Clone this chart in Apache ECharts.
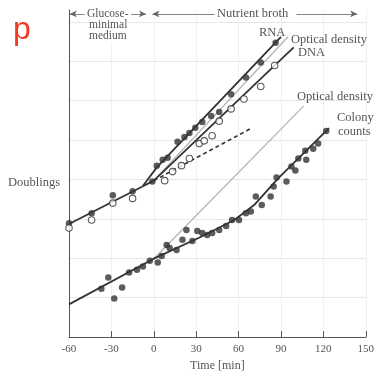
<!DOCTYPE html>
<html>
<head>
<meta charset="utf-8">
<script src="https://cdn.jsdelivr.net/npm/echarts@6/dist/echarts.min.js"></script>
<style>
  html, body { margin: 0; padding: 0; background: #fff; }
  #main { width: 377px; height: 377px; }
</style>
</head>
<body>
<div id="main"></div>
<script>
// time in minutes, doublings (log2 scale units)
const xTicks = [-60, -30, 0, 30, 60, 90, 120, 150]

// glucose minimal medium, before the shift
const glucoseLine = [[-60, 2.87], [-8, 3.82]]
const rnaLine = [[-8, 3.82], [2, 4.3], [90, 7.62]]
const odUpperLine = [[-8, 3.82], [0, 3.97], [95, 7.62]]
const dnaLine = [[-8, 3.82], [0, 3.97], [99, 7.35]]
const dashedLine = [[0, 3.97], [68, 5.28]]
const odLowerLine = [[0, 1.99], [106, 5.86]]
const colonyLine = [[-60, 0.83], [0, 1.99], [32, 2.52], [57, 2.97], [71, 3.35], [88, 4.03], [124, 5.3]]

const rnaPoints = [
  [-60, 2.89], [-44, 3.14], [-29, 3.6], [-15, 3.7], [-1, 3.95],
  [2.1, 4.35], [6.3, 4.5], [9.8, 4.55], [16.8, 4.96], [21.7, 5.08], [25.2, 5.18],
  [29.4, 5.31], [34.3, 5.46], [40.6, 5.61], [46.3, 5.71], [54.7, 6.16],
  [65.2, 6.59], [75.7, 6.97], [86.2, 7.47]
]
const dnaPoints = [
  [-60, 2.77], [-44, 2.97], [-29, 3.4], [-15, 3.52],
  [7.7, 3.97], [13.3, 4.2], [19.6, 4.35], [25.2, 4.53], [32.2, 4.91], [35.7, 4.98],
  [41.3, 5.11], [46.3, 5.48], [54.7, 5.79], [63.8, 6.04], [75.7, 6.36], [85.5, 6.89]
]
const colonyPoints = [
  [-37.1, 1.23], [-32.2, 1.51], [-28, 0.98], [-22.4, 1.26], [-17.5, 1.64], [-11.9, 1.71],
  [-7.7, 1.79], [-2.8, 1.94], [2.8, 1.89], [5.6, 2.06], [9.1, 2.34], [11.2, 2.26],
  [16.1, 2.21], [20.3, 2.47], [23.1, 2.72], [27.3, 2.44], [30.8, 2.69], [34.3, 2.64],
  [37.8, 2.59], [41.3, 2.64], [46.3, 2.72], [51.2, 2.82], [55.4, 2.97], [60.3, 2.97],
  [65.2, 3.14], [68.7, 3.19], [72.2, 3.57], [76.4, 3.35], [82.7, 3.57], [84.8, 3.82],
  [86.9, 4.05], [93.9, 3.95], [97.4, 4.33], [100.2, 4.23], [102.3, 4.53], [107.9, 4.5],
  [107.2, 4.73], [112.8, 4.78], [116.3, 4.91], [122, 5.23]
]

// header arrows: [from, to, arrow at start, arrow at end]
const headerY = 8.2
const headerSegments = [[-59.5, -49, true, false], [-16, -5.5, false, true], [-1, 43, true, false], [101, 144, false, true]]

const serif = '"Liberation Serif", "DejaVu Serif", serif'
const dark = '#333'
const grey = '#b4b4b4'

let chartDom = document.getElementById('main')
let myChart = echarts.init(chartDom)

function lineSeries(data, color, width, type) {
  return {
    type: 'line',
    data: data,
    showSymbol: false,
    silent: true,
    lineStyle: { color: color, width: width, type: type || 'solid' },
    z: 2
  }
}

function pointSeries(data, filled) {
  return {
    type: 'scatter',
    data: data,
    symbol: 'circle',
    symbolSize: 6.5,
    silent: true,
    itemStyle: filled
      ? { color: dark }
      : { color: '#fff', borderColor: dark, borderWidth: 1.1 },
    z: 3
  }
}

const headerMarks = headerSegments.map(s => [
  { coord: [s[0], headerY], symbol: s[2] ? 'arrow' : 'none' },
  { coord: [s[1], headerY], symbol: s[3] ? 'arrow' : 'none' }
])

const textStyle = (text, x, y, size, bg) => ({
  type: 'text',
  left: x,
  top: y,
  z: 10,
  silent: true,
  style: {
    text: text,
    font: (size || 12.5) + 'px ' + serif,
    fill: '#555',
    backgroundColor: bg ? '#fff' : 'transparent'
  }
})

let option = {
  animation: false,
  backgroundColor: '#fff',
  grid: { left: 69, right: 9, top: 10, bottom: 37 },
  xAxis: {
    type: 'value',
    min: -60,
    max: 150,
    interval: 30,
    name: 'Time [min]',
    nameLocation: 'middle',
    nameGap: 22,
    nameTextStyle: { fontFamily: serif, fontSize: 12, color: '#555' },
    axisLine: { lineStyle: { color: '#555', width: 1 } },
    axisTick: { inside: true, length: 6, lineStyle: { color: '#555' } },
    axisLabel: { fontFamily: serif, fontSize: 11, color: '#555', margin: 7 },
    splitLine: { show: true, lineStyle: { color: '#f0f0f0' } }
  },
  yAxis: {
    type: 'value',
    min: 0,
    max: 8.3,
    interval: 1,
    axisLine: { show: true, onZero: false, lineStyle: { color: '#555', width: 1 } },
    axisTick: { show: false },
    axisLabel: { show: false },
    splitLine: { show: true, showMaxLine: false, lineStyle: { color: '#e6e6e6' } }
  },
  series: [
    Object.assign(lineSeries(glucoseLine, dark, 1.8), {
      markLine: {
        silent: true,
        symbolSize: [5, 7],
        label: { show: false },
        lineStyle: { color: '#666', width: 0.8, type: 'solid' },
        data: headerMarks
      }
    }),
    lineSeries(rnaLine, dark, 1.8),
    lineSeries(odUpperLine, grey, 1.3),
    lineSeries(dnaLine, dark, 1.8),
    lineSeries(dashedLine, dark, 1.6, [4, 3]),
    lineSeries(odLowerLine, grey, 1.3),
    lineSeries(colonyLine, dark, 1.8),
    pointSeries(rnaPoints, true),
    pointSeries(dnaPoints, false),
    pointSeries(colonyPoints, true)
  ],
  graphic: [
    {
      type: 'text', left: 13, top: 14, silent: true,
      style: { text: 'p', font: '32px "Liberation Sans", "Noto Sans", sans-serif', fill: '#ef3b24' }
    },
    textStyle('Glucose-', 87, 8, 11.5),
    textStyle('minimal', 89, 19, 11.5, true),
    textStyle('medium', 89, 30, 11.5, true),
    textStyle('Nutrient broth', 217, 7),
    textStyle('RNA', 259, 26),
    textStyle('Optical density', 291, 33),
    textStyle('DNA', 298, 46),
    textStyle('Optical density', 297, 90),
    textStyle('Colony', 337, 111),
    textStyle('counts', 338, 125),
    textStyle('Doublings', 8, 176)
  ]
}

option && myChart.setOption(option)
</script>
</body>
</html>
